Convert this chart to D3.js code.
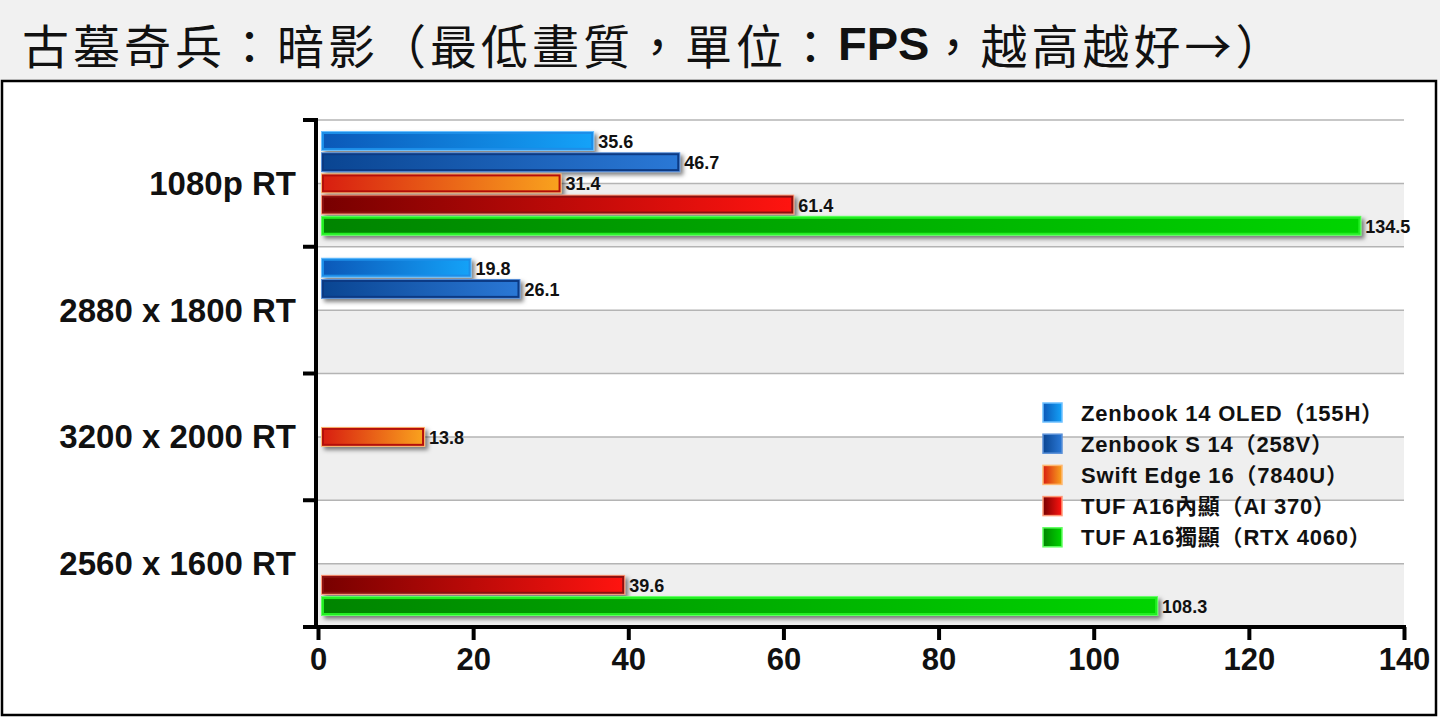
<!DOCTYPE html>
<html>
<head>
<meta charset="utf-8">
<script src="https://cdn.jsdelivr.net/npm/d3@7"></script>
<style>
  html, body { margin: 0; padding: 0; background: #fff; }
  svg text { font-family: Arial, "Liberation Sans", "Noto Sans CJK TC", sans-serif; text-spacing-trim: space-all; }
</style>
</head>
<body>
<script>
// chart data
const categories = ['1080p RT', '2880 x 1800 RT', '3200 x 2000 RT', '2560 x 1600 RT'];
const seriesNames = [
  'Zenbook 14 OLED（155H）',
  'Zenbook S 14（258V）',
  'Swift Edge 16（7840U）',
  'TUF A16內顯（AI 370）',
  'TUF A16獨顯（RTX 4060）'
];
const zenbook14 = [35.6, 19.8, null, null];
const zenbookS14 = [46.7, 26.1, null, null];
const swiftEdge16 = [31.4, null, 13.8, null];
const tufIgpu = [61.4, null, null, 39.6];
const tufDgpu = [134.5, null, null, 108.3];
const xTicks = [0, 20, 40, 60, 80, 100, 120, 140];

const seriesValues = [zenbook14, zenbookS14, swiftEdge16, tufIgpu, tufDgpu];

// bar looks: gradient left->right, stroke, outer glow
const styles = [
  { from: '#0b58b8', to: '#14a2f8', stroke: '#1c8ee8', glow: '#6cc0ff' },
  { from: '#0a4592', to: '#2a78d6', stroke: '#0c3a84', glow: '#5a90d8' },
  { from: '#d81e10', to: '#f9a21e', stroke: '#b40f0a', glow: '#ffb870' },
  { from: '#780000', to: '#ff1410', stroke: '#8c1010', glow: '#ff9a78' },
  { from: '#008400', to: '#00d400', stroke: '#22ee22', glow: '#60ff60' }
];

const W = 1440, H = 720;
const plot = { left: 318, right: 1404, top: 120, bottom: 627 };

const svg = d3.select('body').append('svg')
  .attr('width', W)
  .attr('height', H);

const defs = svg.append('defs');
styles.forEach((s, i) => {
  const lg = defs.append('linearGradient')
    .attr('id', 'grad' + i)
    .attr('x1', '0%').attr('x2', '100%').attr('y1', '0%').attr('y2', '0%');
  lg.append('stop').attr('offset', '0%').attr('stop-color', s.from);
  lg.append('stop').attr('offset', '100%').attr('stop-color', s.to);
});
const shadow = defs.append('filter').attr('id', 'shadow')
  .attr('x', '-5%').attr('y', '-40%').attr('width', '115%').attr('height', '200%');
shadow.append('feDropShadow')
  .attr('dx', 3).attr('dy', 3).attr('stdDeviation', 2)
  .attr('flood-color', '#000').attr('flood-opacity', 0.5);

// title band
svg.append('rect')
  .attr('x', 0).attr('y', 0).attr('width', W).attr('height', 80)
  .attr('fill', '#f1f1f1');

const title = svg.append('text')
  .attr('x', 22).attr('y', 43)
  .attr('dominant-baseline', 'central')
  .style('font-size', '47px')
  .style('letter-spacing', '4px')
  .style('font-family', '"Noto Sans CJK TC", "Noto Sans CJK SC", sans-serif')
  .attr('fill', '#111');
title.append('tspan').text('古墓奇兵：暗影（最低畫質，單位：');
title.append('tspan').text('FPS')
  .style('font-family', 'Arial, "Liberation Sans", sans-serif')
  .style('font-weight', 'bold')
  .style('letter-spacing', '0px');
title.append('tspan').text('，越高越好→）');

// chart frame
svg.append('rect')
  .attr('x', 2).attr('y', 81).attr('width', 1434).attr('height', 634)
  .attr('fill', '#fff')
  .attr('stroke', '#000')
  .attr('stroke-width', 2.5);

// scales
const x = d3.scaleLinear()
  .domain([0, 140])
  .range([plot.left, plot.right]);

const y0 = d3.scaleBand()
  .domain(categories)
  .range([plot.top, plot.bottom]);

const y1 = d3.scaleBand()
  .domain(d3.range(seriesNames.length))
  .range([11, y0.bandwidth() - 11])
  .paddingInner(0.06);

// alternating stripes: lower half of each category is grey
const g = svg.append('g');
g.selectAll('.stripe')
  .data(categories)
  .enter().append('rect')
  .attr('x', plot.left)
  .attr('y', d => y0(d) + y0.bandwidth() / 2)
  .attr('width', plot.right - plot.left)
  .attr('height', y0.bandwidth() / 2)
  .attr('fill', '#efefef');

// grid lines every half category
const gridYs = [];
categories.forEach(c => { gridYs.push(y0(c)); gridYs.push(y0(c) + y0.bandwidth() / 2); });
g.selectAll('.grid')
  .data(gridYs)
  .enter().append('line')
  .attr('x1', plot.left).attr('x2', plot.right)
  .attr('y1', d => d).attr('y2', d => d)
  .attr('stroke', '#b4b4b4')
  .attr('stroke-width', 1.5);

// bars
const barData = [];
seriesValues.forEach((vals, si) => {
  vals.forEach((v, ci) => {
    if (v != null) barData.push({ s: si, cat: categories[ci], v: v });
  });
});

const bars = g.selectAll('.bar')
  .data(barData)
  .enter().append('g')
  .attr('transform', d => `translate(0,${y0(d.cat) + y1(d.s)})`);

bars.append('rect')
  .attr('x', x(0) + 3)
  .attr('y', 0)
  .attr('width', d => x(d.v) - x(0) - 3)
  .attr('height', y1.bandwidth())
  .attr('fill', d => styles[d.s].glow)
  .attr('filter', 'url(#shadow)');

bars.append('rect')
  .attr('x', x(0) + 5)
  .attr('y', 2)
  .attr('width', d => x(d.v) - x(0) - 7)
  .attr('height', y1.bandwidth() - 4)
  .attr('fill', d => `url(#grad${d.s})`)
  .attr('stroke', d => styles[d.s].stroke)
  .attr('stroke-width', 2);

bars.append('text')
  .attr('x', d => x(d.v) + 4)
  .attr('y', y1.bandwidth() / 2 + 1)
  .attr('dominant-baseline', 'central')
  .style('font-size', '18px')
  .style('font-weight', 'bold')
  .attr('fill', '#111')
  .text(d => d.v.toFixed(1));

// y axis
const yAxis = svg.append('g');
yAxis.append('line')
  .attr('x1', 316).attr('x2', 316)
  .attr('y1', plot.top - 2).attr('y2', plot.bottom + 2)
  .attr('stroke', '#000').attr('stroke-width', 4);
const yTickPos = categories.map(c => y0(c)).concat([plot.bottom]);
yAxis.selectAll('.ytick')
  .data(yTickPos)
  .enter().append('line')
  .attr('x1', 303).attr('x2', 316)
  .attr('y1', d => d).attr('y2', d => d)
  .attr('stroke', '#000').attr('stroke-width', 4);
yAxis.selectAll('.ylabel')
  .data(categories)
  .enter().append('text')
  .attr('x', 296)
  .attr('y', d => y0(d) + y0.bandwidth() / 2)
  .attr('text-anchor', 'end')
  .attr('dominant-baseline', 'central')
  .style('font-size', '33px')
  .style('font-weight', 'bold')
  .attr('fill', '#111')
  .text(d => d);

// x axis
const xAxis = svg.append('g')
  .attr('transform', `translate(0,${plot.bottom})`)
  .call(d3.axisBottom(x).tickValues(xTicks).tickSize(13).tickPadding(8).tickSizeOuter(0));
xAxis.select('.domain').remove();
xAxis.append('line')
  .attr('x1', 303).attr('x2', plot.right + 2)
  .attr('y1', 0).attr('y2', 0)
  .attr('stroke', '#000').attr('stroke-width', 4);
xAxis.selectAll('.tick line')
  .attr('stroke', '#000').attr('stroke-width', 4);
xAxis.selectAll('.tick text')
  .style('font-size', '31px')
  .style('font-weight', 'bold')
  .style('font-family', 'Arial, "Liberation Sans", sans-serif')
  .attr('fill', '#111');

// legend
const legend = svg.append('g')
  .attr('transform', 'translate(1043,402)');
const items = legend.selectAll('.item')
  .data(seriesNames)
  .enter().append('g')
  .attr('transform', (d, i) => `translate(0,${i * 31.2})`);
items.append('rect')
  .attr('x', 0).attr('y', 1)
  .attr('width', 19).attr('height', 19)
  .attr('fill', (d, i) => `url(#grad${i})`)
  .attr('stroke', (d, i) => styles[i].glow)
  .attr('stroke-width', 1.5);
items.append('text')
  .attr('x', 38)
  .attr('y', 11)
  .attr('dominant-baseline', 'central')
  .style('font-size', '22px')
  .style('letter-spacing', '0.8px')
  .style('font-weight', 'bold')
  .attr('fill', '#111')
  .text(d => d);
</script>
</body>
</html>
